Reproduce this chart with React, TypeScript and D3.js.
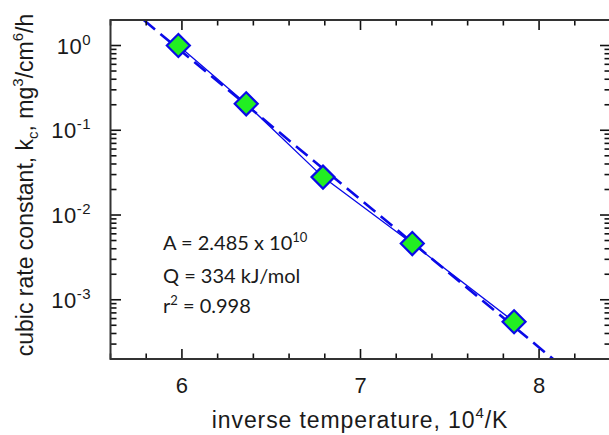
import React from "react";
import * as d3 from "d3";

const invT = [5.98, 6.36, 6.79, 7.29, 7.86];
const kc = [1.0, 0.205, 0.028, 0.0046, 0.00055];
const fitA = 2.485e10;
const fitQ = 334; // kJ/mol
const fitR2 = 0.998;
const fitRange = [5.5, 8.5];
const xMajor = [6, 7, 8];
const yMajorExp = [0, -1, -2, -3];

const W = 609, H = 435;
const M = { left: 110.5, right: 610.5, top: 20, bottom: 359 };

export default function App() {
  const x = d3.scaleLinear().domain([5.6, 8.4]).range([M.left, M.right]);
  const y = d3.scaleLog().domain([2e-4, 2]).range([M.bottom, M.top]);

  const xMinor = d3.range(56, 85, 2).map((v) => v / 10).filter((v) => !xMajor.some((m) => Math.abs(m - v) < 1e-6));
  const yMinor: number[] = [];
  for (let e = -4; e <= 0; e++) {
    for (let m = 2; m <= 9; m++) {
      const v = m * Math.pow(10, e);
      if (v >= 2e-4 && v <= 2) yMinor.push(v);
    }
  }

  const R = 8.314e-3;
  const fitY = (t: number) => fitA * Math.exp(-(fitQ / R) * t * 1e-4);
  const fitPts: [number, number][] = fitRange.map((t) => [t, fitY(t)]);
  const line = d3.line<[number, number]>().x((d) => x(d[0])).y((d) => y(d[1]));
  const dataPts: [number, number][] = invT.map((t, i) => [t, kc[i]]);

  const blue = "#0a0ae8";
  const axisFont = "'Liberation Sans', Arial, sans-serif";
  const noteFont = "Lato, 'Open Sans', sans-serif";
  const r = 11.5;

  return (
    <svg width={W} height={H} style={{ position: "absolute", left: 0, top: 0 }}>
      <defs>
        <clipPath id="plot">
          <rect x={M.left} y={M.top} width={M.right - M.left} height={M.bottom - M.top} />
        </clipPath>
      </defs>
      <rect width={W} height={H} fill="#fff" />
      <g clipPath="url(#plot)">
        <path d={line(fitPts) || ""} fill="none" stroke={blue} strokeWidth={2.6} strokeDasharray="15,7" />
        <path d={line(dataPts) || ""} fill="none" stroke={blue} strokeWidth={1.3} />
      </g>
      {dataPts.map((d, i) => {
        const cx = x(d[0]), cy = y(d[1]);
        return (
          <path key={i} d={`M${cx},${cy - r}L${cx + r},${cy}L${cx},${cy + r}L${cx - r},${cy}Z`} fill="#22ee22" stroke={blue} strokeWidth={2.2} />
        );
      })}
      <g stroke="#111" strokeWidth={1.6}>
        {xMajor.map((t) => (
          <g key={"xm" + t}>
            <line x1={x(t)} x2={x(t)} y1={M.bottom} y2={M.bottom - 10} />
            <line x1={x(t)} x2={x(t)} y1={M.top} y2={M.top + 10} />
          </g>
        ))}
        {xMinor.map((t) => (
          <g key={"xn" + t}>
            <line x1={x(t)} x2={x(t)} y1={M.bottom} y2={M.bottom - 5.5} />
            <line x1={x(t)} x2={x(t)} y1={M.top} y2={M.top + 5.5} />
          </g>
        ))}
        {yMajorExp.map((e) => (
          <g key={"ym" + e}>
            <line x1={M.left} x2={M.left + 10.5} y1={y(Math.pow(10, e))} y2={y(Math.pow(10, e))} />
            <line x1={M.right} x2={M.right - 10.5} y1={y(Math.pow(10, e))} y2={y(Math.pow(10, e))} />
          </g>
        ))}
        {yMinor.map((v, i) => (
          <g key={"yn" + i}>
            <line x1={M.left} x2={M.left + 6} y1={y(v)} y2={y(v)} />
            <line x1={M.right} x2={M.right - 6} y1={y(v)} y2={y(v)} />
          </g>
        ))}
      </g>
      <rect x={M.left} y={M.top} width={M.right - M.left} height={M.bottom - M.top} fill="none" stroke="#333" strokeWidth={2} />
      <g fontFamily={axisFont} fill="#1a1a1a">
        {xMajor.map((t) => (
          <text key={"xl" + t} x={x(t)} y={393} fontSize={22} textAnchor="middle">{t}</text>
        ))}
        {yMajorExp.map((e) => (
          <text key={"yl" + e} x={91} y={y(Math.pow(10, e)) + 8} fontSize={22} letterSpacing={0.5} textAnchor="end">
            10<tspan fontSize={15} dy={-9}>{e}</tspan>
          </text>
        ))}
        <text x={360} y={428} fontSize={23} letterSpacing={0.9} textAnchor="middle">
          inverse temperature, 10<tspan fontSize={15} dy={-10}>4</tspan><tspan dy={10}>/K</tspan>
        </text>
        <text transform={`translate(33,185) rotate(-90)`} fontSize={23} textAnchor="middle">
          cubic rate constant, k<tspan fontSize={15} dy={5}>c</tspan><tspan dy={-5}>, mg</tspan><tspan fontSize={15} dy={-10}>3</tspan><tspan dy={10}>/cm</tspan><tspan fontSize={15} dy={-10}>6</tspan><tspan dy={10}>/h</tspan>
        </text>
      </g>
      <g fontFamily={noteFont} fill="#1a1a1a" fontSize={20}>
        <text x={163} y={250}>A = 2.485 x 10<tspan fontSize={13} dy={-8}>10</tspan></text>
        <text x={163} y={283}>Q = {fitQ} kJ/mol</text>
        <text x={163} y={313}>r<tspan fontSize={13} dy={-8}>2</tspan><tspan dy={8}> = {fitR2}</tspan></text>
      </g>
    </svg>
  );
}
